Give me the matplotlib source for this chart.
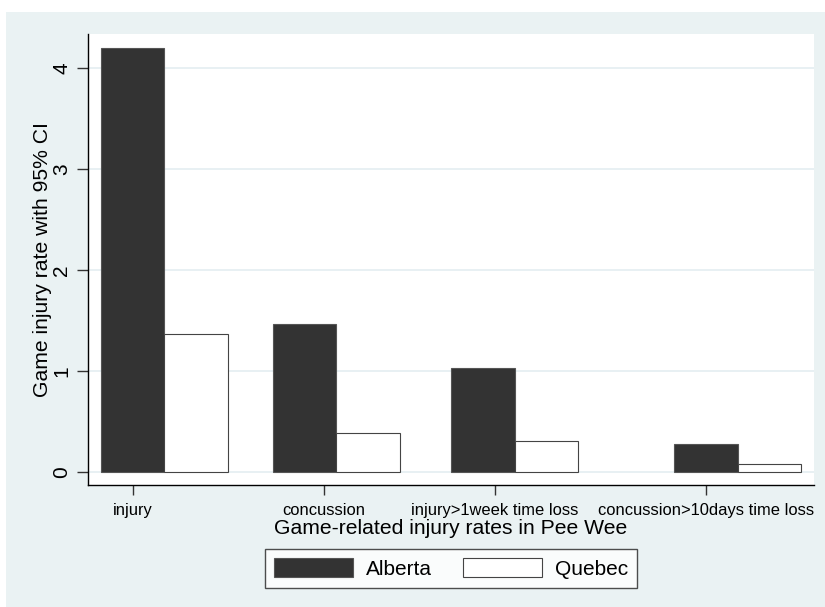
import numpy as np
import matplotlib.pyplot as plt
from matplotlib.patches import Rectangle

plt.rcParams['font.family'] = ['Liberation Sans', 'DejaVu Sans']

# injury categories and rates (per 1000 game hours)
categories = ['injury', 'concussion', 'injury>1week time loss',
              'concussion>10days time loss']
alberta = [4.20, 1.47, 1.03, 0.28]
quebec = [1.37, 0.39, 0.31, 0.08]

# group layout in bar-width units
group_left = np.array([0.20, 2.90, 5.70, 9.20])
label_pos = np.array([0.71, 3.70, 6.39, 9.70])
width = 1.0

bg = '#eaf2f3'
fig = plt.figure(figsize=(8.25, 6.07), dpi=100)
fig.patch.set_facecolor('white')
fig.patches.append(Rectangle((6 / 825, 0), 1, 1 - 12 / 607,
                             transform=fig.transFigure, facecolor=bg,
                             edgecolor='none', zorder=-10))

ax = fig.add_axes([88 / 825, 1 - 485 / 607, (814 - 88) / 825, (485 - 34) / 607])
ax.set_facecolor('white')

ax.bar(group_left, alberta, width, align='edge', color='#333333',
       edgecolor='#555555', linewidth=0.8, label='Alberta', zorder=3)
ax.bar(group_left + width, quebec, width, align='edge', color='white',
       edgecolor='#444444', linewidth=0.8, label='Quebec', zorder=3)

ax.set_xlim(0, 11.4)
ax.set_ylim(-0.129, 4.337)

ax.set_yticks([0, 1, 2, 3, 4])
ax.set_yticklabels(['0', '1', '2', '3', '4'], rotation=90, va='center',
                   fontsize=15)
ax.yaxis.grid(True, color='#e4eef1', linewidth=1.2, zorder=0)
ax.set_axisbelow(True)

ax.set_xticks(label_pos)
ax.set_xticklabels(categories, fontsize=11.9)
ax.tick_params(axis='x', length=7, width=1, color='#333333', pad=6)
ax.tick_params(axis='y', length=8, width=1, color='#333333', pad=4)

for side in ['top', 'right']:
    ax.spines[side].set_visible(False)
for side in ['left', 'bottom']:
    ax.spines[side].set_color('black')
    ax.spines[side].set_linewidth(1)

ax.set_ylabel('Game injury rate with 95% CI', fontsize=15.2, labelpad=0.5)
ax.set_xlabel('Game-related injury rates in Pee Wee', fontsize=15.2, labelpad=1)

# legend box centred under the plot area
leg = ax.legend(loc='center', bbox_to_anchor=(0.5, (607 - 568.5) / 607),
                bbox_transform=ax.get_yaxis_transform().__class__(
                    ax.transAxes, fig.transFigure),
                ncol=2, fontsize=15, frameon=True, fancybox=False,
                handlelength=3.8, handleheight=1.0, handletextpad=0.6,
                columnspacing=1.5, borderpad=0.45)
leg.get_frame().set_edgecolor('#222222')
leg.get_frame().set_linewidth(1)

fig.savefig('out.png', dpi=100, facecolor=fig.get_facecolor())
